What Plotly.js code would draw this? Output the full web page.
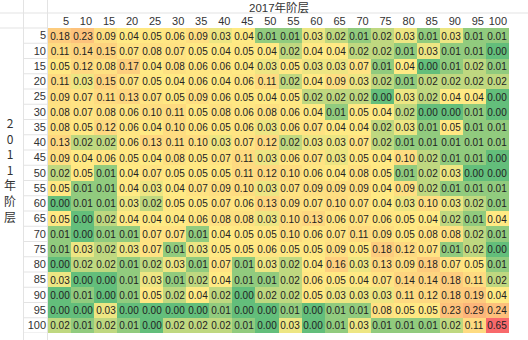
<!DOCTYPE html>
<html>
<head>
<meta charset="utf-8">
<script src="https://cdn.plot.ly/plotly-3.0.1.min.js"></script>
<style>html,body{margin:0;padding:0;background:#fff;}#chart{width:528px;height:340px;}</style>
</head>
<body>
<div id="chart"></div>
<script>
const xCats = [5,10,15,20,25,30,35,40,45,50,55,60,65,70,75,80,85,90,95,100];
const yCats = [5,10,15,20,25,30,35,40,45,50,55,60,65,70,75,80,85,90,95,100];
const xTitle = "2017年阶层";
const yTitle = "2011年阶层";

const row5   = [0.18,0.23,0.09,0.04,0.05,0.06,0.09,0.03,0.04,0.01,0.01,0.03,0.02,0.01,0.02,0.03,0.01,0.03,0.01,0.01];
const row10  = [0.11,0.14,0.15,0.07,0.08,0.07,0.05,0.04,0.05,0.04,0.02,0.04,0.04,0.02,0.02,0.01,0.03,0.01,0.01,0.00];
const row15  = [0.05,0.12,0.08,0.17,0.04,0.08,0.06,0.06,0.04,0.03,0.05,0.03,0.03,0.07,0.01,0.04,0.00,0.01,0.02,0.01];
const row20  = [0.11,0.03,0.15,0.07,0.05,0.04,0.06,0.04,0.06,0.11,0.02,0.04,0.09,0.03,0.02,0.01,0.02,0.02,0.02,0.02];
const row25  = [0.09,0.07,0.11,0.13,0.07,0.05,0.09,0.06,0.05,0.04,0.05,0.02,0.02,0.02,0.00,0.03,0.02,0.04,0.04,0.00];
const row30  = [0.08,0.07,0.08,0.06,0.10,0.11,0.05,0.08,0.06,0.08,0.06,0.04,0.01,0.05,0.04,0.02,0.00,0.00,0.01,0.00];
const row35  = [0.08,0.05,0.12,0.06,0.04,0.10,0.06,0.05,0.06,0.03,0.06,0.07,0.04,0.04,0.02,0.03,0.01,0.05,0.01,0.01];
const row40  = [0.13,0.02,0.02,0.06,0.13,0.11,0.10,0.03,0.07,0.12,0.02,0.03,0.03,0.07,0.02,0.01,0.01,0.01,0.01,0.01];
const row45  = [0.09,0.04,0.06,0.05,0.04,0.08,0.05,0.07,0.11,0.03,0.06,0.07,0.03,0.05,0.04,0.10,0.02,0.01,0.01,0.00];
const row50  = [0.02,0.05,0.01,0.04,0.07,0.05,0.05,0.05,0.11,0.12,0.10,0.06,0.04,0.08,0.05,0.01,0.02,0.03,0.00,0.00];
const row55  = [0.05,0.01,0.01,0.04,0.03,0.04,0.07,0.09,0.10,0.03,0.07,0.09,0.09,0.09,0.04,0.09,0.02,0.01,0.01,0.01];
const row60  = [0.00,0.01,0.01,0.03,0.02,0.05,0.05,0.07,0.06,0.13,0.09,0.07,0.10,0.07,0.04,0.03,0.10,0.03,0.02,0.01];
const row65  = [0.05,0.00,0.02,0.04,0.04,0.04,0.06,0.08,0.08,0.03,0.10,0.13,0.06,0.07,0.06,0.05,0.04,0.02,0.01,0.04];
const row70  = [0.01,0.00,0.01,0.01,0.07,0.07,0.01,0.04,0.05,0.05,0.10,0.06,0.07,0.11,0.09,0.05,0.08,0.08,0.02,0.01];
const row75  = [0.01,0.03,0.02,0.03,0.07,0.01,0.03,0.05,0.05,0.06,0.05,0.05,0.09,0.05,0.18,0.12,0.07,0.01,0.02,0.00];
const row80  = [0.00,0.02,0.02,0.01,0.02,0.03,0.01,0.07,0.01,0.03,0.02,0.04,0.16,0.03,0.13,0.09,0.18,0.07,0.05,0.01];
const row85  = [0.03,0.00,0.00,0.01,0.03,0.01,0.02,0.04,0.01,0.01,0.02,0.06,0.05,0.04,0.07,0.14,0.14,0.18,0.11,0.02];
const row90  = [0.00,0.01,0.00,0.01,0.05,0.02,0.04,0.02,0.00,0.02,0.02,0.05,0.03,0.03,0.03,0.11,0.12,0.18,0.19,0.04];
const row95  = [0.00,0.00,0.03,0.00,0.00,0.00,0.00,0.01,0.00,0.00,0.01,0.00,0.01,0.01,0.08,0.05,0.05,0.23,0.29,0.24];
const row100 = [0.02,0.01,0.02,0.01,0.00,0.02,0.02,0.02,0.01,0.00,0.03,0.00,0.01,0.03,0.01,0.01,0.01,0.02,0.11,0.65];

const z = [row5,row10,row15,row20,row25,row30,row35,row40,row45,row50,
           row55,row60,row65,row70,row75,row80,row85,row90,row95,row100];

// Excel-style 3-colour scale: min green, 50th percentile yellow, max red
const flat = z.flat().slice().sort((a,b)=>a-b);
const n = flat.length;
const pos = 0.5*(n-1);
const median = flat[Math.floor(pos)] + (flat[Math.ceil(pos)]-flat[Math.floor(pos)])*(pos-Math.floor(pos));
const zMin = flat[0], zMax = flat[n-1];
const midFrac = (median - zMin)/(zMax - zMin);

const FONT = "Liberation Sans, Arial, sans-serif";
const MIXED = "Liberation Sans, Noto Sans CJK SC, sans-serif";
const CJK = "Noto Sans CJK SC, Liberation Sans, sans-serif";

const trace = {
  type: 'heatmap',
  x: xCats, y: yCats, z: z,
  zmin: zMin, zmax: zMax,
  colorscale: [[0,'#63BE7B'],[midFrac*0.85,'#FFEB84'],[1,'#F8696B']],
  showscale: false,
  texttemplate: '%{z:.2f}',
  textfont: {family: FONT, size: 10, color: '#222'},
  hoverinfo: 'skip'
};

const shapes = [];
const grid = '#E3E3E3';
shapes.push({type:'line', xref:'paper', yref:'paper', x0:-48/461, x1:1+19/461, y0:1+15/305, y1:1+15/305, line:{color:grid,width:1}});
shapes.push({type:'line', xref:'paper', yref:'paper', x0:-48/461, x1:0, y0:1, y1:1, line:{color:grid,width:1}});
shapes.push({type:'line', xref:'paper', yref:'paper', x0:-24.5/461, x1:-24.5/461, y0:-7/305, y1:1+28/305, line:{color:grid,width:1}});
shapes.push({type:'line', xref:'paper', yref:'paper', x0:-0.5/461, x1:-0.5/461, y0:-7/305, y1:1+28/305, line:{color:grid,width:1}});
yCats.forEach(v => {
  shapes.push({type:'line', xref:'paper', yref:'y', x0:-24.5/461, x1:0, y0:v+2.5, y1:v+2.5, line:{color:grid,width:1}});
});

const layout = {
  width: 528, height: 340,
  margin: {l:48, r:19, t:28, b:7, pad:0},
  paper_bgcolor: '#fff', plot_bgcolor: '#fff',
  font: {family: FONT, size: 11, color: '#333'},
  xaxis: {
    side: 'top', range: [2.5, 102.5], showgrid: false, zeroline: false,
    tickvals: xCats.map(v => v + 2.5), ticktext: xCats.map(String), tickangle: 0,
    ticklabelposition: 'outside left', ticks: '', ticklabelshift: -2, ticklabelstandoff: 0,
    tickfont: {family: FONT, size: 11, color: '#333'}, fixedrange: true
  },
  yaxis: {
    range: [102.5, 2.5], showgrid: false, zeroline: false,
    tickvals: yCats, ticktext: yCats.map(String), ticks: '', ticklabelstandoff: 1,
    tickfont: {family: FONT, size: 11, color: '#333'}, fixedrange: true
  },
  shapes: shapes,
  annotations: [
    {text: xTitle, xref:'paper', yref:'paper', x:0.5, y:1+28/305, xanchor:'center', yanchor:'top',
     showarrow:false, borderpad:0, font:{family:MIXED, size:11.5, color:'#333'}},
    {text: yTitle.split('').join('<br>'), xref:'paper', yref:'paper', x:-38/461, y:(333-169)/305,
     xanchor:'center', yanchor:'middle', showarrow:false, font:{family:CJK, size:12, color:'#333'}}
  ]
};

Plotly.newPlot('chart', [trace], layout, {displayModeBar:false, staticPlot:true});
</script>
</body>
</html>
